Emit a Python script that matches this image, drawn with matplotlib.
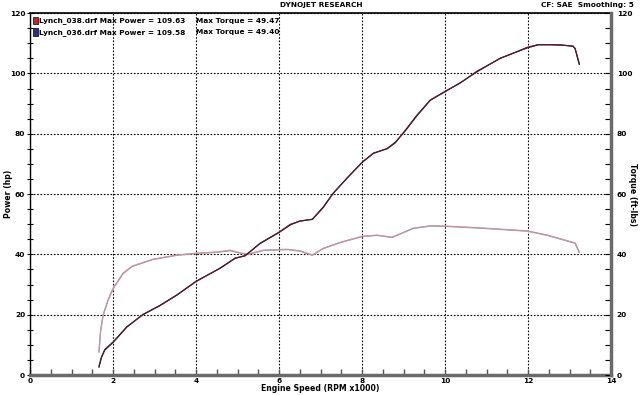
import matplotlib
matplotlib.use("Agg")
import matplotlib.pyplot as plt
from matplotlib.ticker import MultipleLocator
from matplotlib.patches import Rectangle

# ---- data ----
rpm_pw = [1.66, 1.72, 1.80, 2.0, 2.33, 2.72, 3.13, 3.54, 4.0, 4.58, 4.94, 5.18, 5.54, 6.0, 6.27,
          6.5, 6.8, 7.06, 7.3, 7.64, 8.0, 8.27, 8.6, 8.8, 9.04, 9.32, 9.64, 10.0, 10.36, 10.77,
          11.33, 11.98, 12.24, 12.53, 12.8, 13.08, 13.13, 13.23]
power_038 = [3, 6, 8.5, 11, 16, 20, 23, 26.5, 31, 35.5, 38.8, 39.5, 43.7, 47.4, 50,
             51, 51.7, 55.7, 60.3, 65.3, 70.6, 73.6, 75, 77, 81.2, 86.2, 91.2, 94.1, 96.8, 100.8,
             105, 108.7, 109.6, 109.6, 109.5, 109, 108.4, 103.4]
power_036 = [2.6, 5.8, 8.3, 10.8, 15.9, 20.1, 23.1, 26.6, 31.1, 35.4, 38.7, 39.6, 43.6, 47.3, 49.8,
             51.1, 51.6, 55.5, 60.2, 65.4, 70.5, 73.5, 75.1, 77.2, 81.0, 86.0, 91.1, 94.0, 96.9, 100.6,
             105.1, 108.5, 109.5, 109.5, 109.4, 109.1, 108.2, 103.0]

rpm_tq = [1.66, 1.70, 1.76, 1.88, 2.0, 2.24, 2.46, 2.96, 3.54, 4.0, 4.5, 4.82, 5.1, 5.25, 5.62,
          6.19, 6.5, 6.8, 7.06, 7.47, 8.0, 8.36, 8.72, 9.23, 9.64, 10.0, 10.84, 11.98, 12.46,
          13.13, 13.23]
torque_038 = [8, 15, 20, 25, 28.8, 33.8, 36.1, 38.4, 39.8, 40.4, 40.8, 41.4, 40.4, 40.1, 41.4,
              41.7, 41.2, 39.8, 42, 44, 46, 46.4, 45.7, 48.7, 49.5, 49.4, 48.8, 47.8, 46.4,
              43.8, 40.8]
torque_036 = [7.5, 14.6, 19.8, 24.8, 28.6, 33.6, 36.0, 38.3, 39.7, 40.3, 40.7, 41.2, 40.3, 40.0, 41.3,
              41.6, 41.1, 39.7, 41.9, 43.9, 45.9, 46.3, 45.6, 48.6, 49.4, 49.3, 48.7, 47.7, 46.3,
              43.7, 40.6]

legend_lines = ["Lynch_038.drf Max Power = 109.63", "Lynch_036.drf Max Power = 109.58"]
torque_lines = ["Max Torque = 49.47", "Max Torque = 49.40"]
run_colors = ["#c0282c", "#2a2f8a"]

plt.rcParams['font.family'] = ['DejaVu Sans']
FS = 5.3
fig = plt.figure(figsize=(6.4, 3.95), dpi=100)
ax = fig.add_axes([0.047, 0.0506, 0.908, 0.916])

ax.plot(rpm_tq, torque_036, color="#a898b0", lw=0.9)
ax.plot(rpm_tq, torque_038, color="#c4959c", lw=0.9)
ax.plot(rpm_pw, power_036, color="#1c1428", lw=0.9)
ax.plot(rpm_pw, power_038, color="#5a1a28", lw=0.8)

ax.set_xlim(0, 14)
ax.set_ylim(0, 120)
ax.xaxis.set_major_locator(MultipleLocator(2))
ax.xaxis.set_minor_locator(MultipleLocator(0.5))
ax.yaxis.set_major_locator(MultipleLocator(20))
ax.yaxis.set_minor_locator(MultipleLocator(5))
ax.grid(True, which='major', color='black', linestyle=(0, (1.5, 1.5)), lw=0.8)

ax.tick_params(axis='x', which='both', direction='in', length=4, width=1, labelsize=FS, pad=2, color='#555555')
ax.tick_params(axis='y', which='both', direction='inout', length=5, width=0.8, labelsize=FS, pad=1)
for lbl in ax.get_xticklabels() + ax.get_yticklabels():
    lbl.set_fontweight('bold')

ax.spines['left'].set_linewidth(1.0)
ax.spines['top'].set_linewidth(1.2)
ax.spines['bottom'].set_linewidth(2.5)
ax.spines['bottom'].set_color('#6a6a6a')
ax.spines['right'].set_visible(False)

ax2 = ax.twinx()
ax2.set_ylim(0, 120)
ax2.yaxis.set_major_locator(MultipleLocator(20))
ax2.yaxis.set_minor_locator(MultipleLocator(5))
ax2.tick_params(axis='y', which='both', direction='in', length=4, width=0.8, labelsize=FS, pad=4)
for lbl in ax2.get_yticklabels():
    lbl.set_fontweight('bold')
for s in ['left', 'top', 'bottom']:
    ax2.spines[s].set_visible(False)
ax2.spines['right'].set_linewidth(2.5)
ax2.spines['right'].set_color('#6a6a6a')

ax.set_xlabel("Engine Speed (RPM x1000)", fontsize=FS + 0.3, fontweight='bold', labelpad=0)
ax.set_ylabel("Power (hp)", fontsize=FS + 0.3, fontweight='bold', va='center')
ax.yaxis.set_label_coords(-0.037, 0.5)
ax2.set_ylabel("Torque (ft-lbs)", fontsize=FS + 0.3, fontweight='bold', rotation=-90, va='center')
ax2.yaxis.set_label_coords(1.037, 0.5)

fig.text(0.502, 0.987, "DYNOJET RESEARCH", ha='center', va='center', fontsize=FS, fontweight='bold')
fig.text(0.99, 0.987, "CF: SAE  Smoothing: 5", ha='right', va='center', fontsize=FS, fontweight='bold')

for i in range(2):
    ytxt = 0.948 - i * 0.030
    fig.patches.append(Rectangle((0.052, ytxt - 0.010), 0.007, 0.020, transform=fig.transFigure,
                                 facecolor=run_colors[i], edgecolor='black', lw=0.5))
    fig.text(0.061, ytxt, legend_lines[i], ha='left', va='center', fontsize=FS, fontweight='bold')
    fig.text(0.306, ytxt, torque_lines[i], ha='left', va='center', fontsize=FS, fontweight='bold')

fig.savefig("out.png", dpi=100)
